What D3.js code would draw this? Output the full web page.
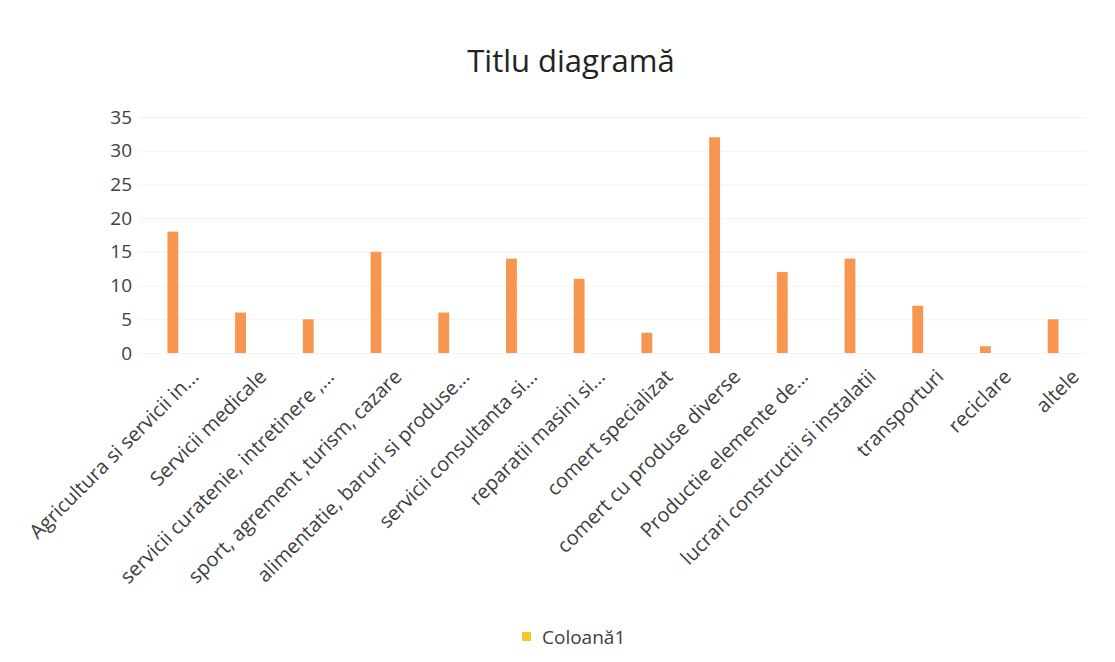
<!DOCTYPE html>
<meta charset="utf-8">
<head>
<script src="https://cdn.jsdelivr.net/npm/d3@7/dist/d3.min.js"></script>
<style>
body { margin: 0; background: #fff; font-family: "Open Sans", sans-serif; }
.tick text { fill: #404040; }
</style>
</head>
<body>
<div id="chart"></div>
<script>
// data
var categories = [
  "Agricultura si servicii in...",
  "Servicii medicale",
  "servicii curatenie, intretinere ,...",
  "sport, agrement ,turism, cazare",
  "alimentatie, baruri si produse...",
  "servicii consultanta si...",
  "reparatii masini si...",
  "comert specializat",
  "comert cu produse diverse",
  "Productie elemente de...",
  "lucrari constructii si instalatii",
  "transporturi",
  "reciclare",
  "altele"
];
var values = [18, 6, 5, 15, 6, 14, 11, 3, 32, 12, 14, 7, 1, 5];
var yTicks = [0, 5, 10, 15, 20, 25, 30, 35];
var seriesName = "Coloană1";
var chartTitle = "Titlu diagramă";

var W = 1115, H = 662;
var margin = {top: 117, right: 28, bottom: 309, left: 139};
var width = W - margin.left - margin.right,
    height = H - margin.top - margin.bottom;

var svg = d3.select("#chart").append("svg")
    .attr("width", W)
    .attr("height", H);

svg.append("text")
    .attr("x", 571)
    .attr("y", 72)
    .attr("text-anchor", "middle")
    .style("font-size", "31px")
    .style("fill", "#222")
    .text(chartTitle);

var g = svg.append("g")
    .attr("transform", "translate(" + margin.left + "," + margin.top + ")");

// equal slots per category, like the spreadsheet chart
var x = d3.scaleBand()
    .domain(categories)
    .range([0, width])
    .paddingInner(0.84)
    .paddingOuter(0.42);
var y = d3.scaleLinear()
    .domain([0, 35])
    .range([height, 0]);

// faint gridlines
g.append("g")
    .call(d3.axisLeft(y).tickValues(yTicks).tickSize(-width).tickFormat(""))
    .call(function(a) { a.select(".domain").remove(); })
    .selectAll("line")
    .style("stroke", "#f3f3f3");

// y axis labels
g.append("g")
    .call(d3.axisLeft(y).tickValues(yTicks).tickSize(0).tickPadding(7))
    .call(function(a) { a.select(".domain").remove(); })
    .selectAll("text")
    .style("font-size", "19px")
    .style("font-family", "Open Sans, sans-serif");

// bars
g.selectAll(".bar")
    .data(values)
    .enter().append("rect")
    .attr("class", "bar")
    .attr("x", function(d, i) { return x(categories[i]); })
    .attr("width", x.bandwidth())
    .attr("y", function(d) { return y(d); })
    .attr("height", function(d) { return height - y(d); })
    .style("fill", "#f6964f");

// x axis labels, rotated
g.append("g")
    .attr("transform", "translate(0," + height + ")")
    .call(d3.axisBottom(x).tickSize(0))
    .call(function(a) { a.select(".domain").remove(); })
    .selectAll("text")
    .attr("x", 0)
    .attr("y", 0)
    .attr("dy", "0.71em")
    .attr("transform", "translate(17,15) rotate(-45)")
    .style("text-anchor", "end")
    .style("font-size", "20px")
    .style("font-family", "Open Sans, sans-serif");

// legend
var legend = svg.append("g").attr("transform", "translate(522,632)");
legend.append("rect")
    .attr("width", 9)
    .attr("height", 9)
    .style("fill", "#f5c72c");
legend.append("text")
    .attr("x", 20)
    .attr("y", 12)
    .style("font-size", "19px")
    .style("fill", "#404040")
    .text(seriesName);
</script>
</body>
